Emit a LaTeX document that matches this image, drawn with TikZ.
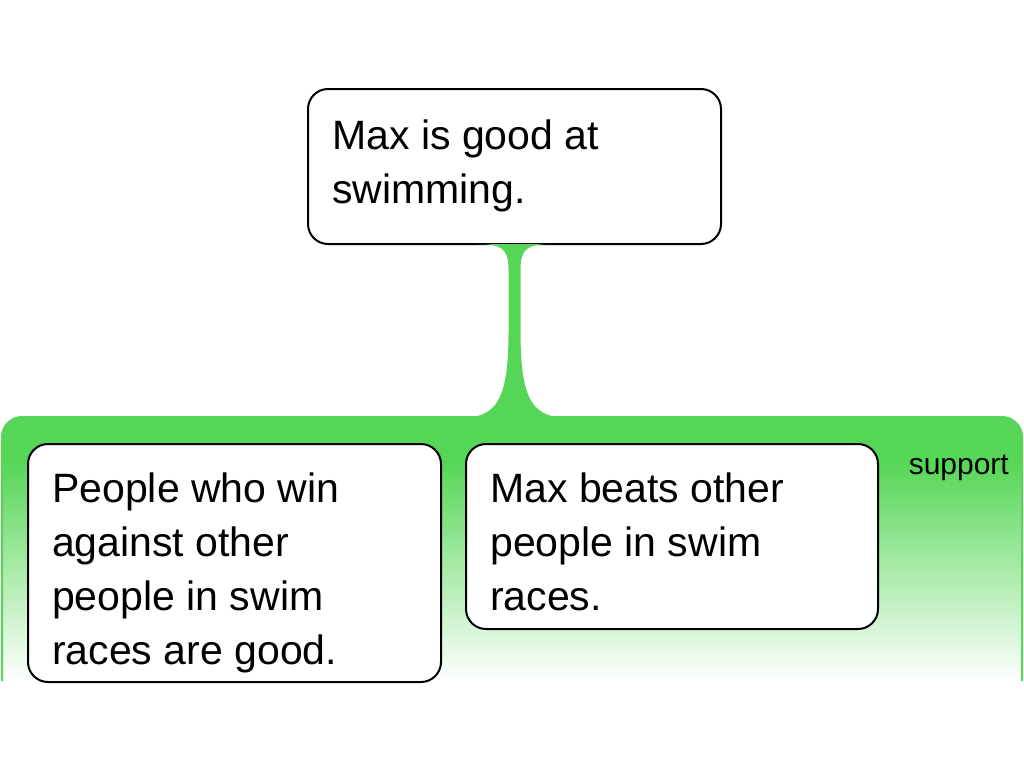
\documentclass[tikz,border=0pt]{standalone}
\usepackage{fontspec}
\setmainfont{Liberation Sans}
\definecolor{sgreen}{RGB}{86,214,86}
\tikzset{
  card/.style={draw=black, line width=2pt, fill=white, rounded corners=20pt, inner sep=0pt, anchor=north west},
  cardtext/.style={anchor=base west, inner sep=0pt, font=\fontsize{41}{54}\selectfont},
  reltext/.style={anchor=base east, inner sep=0pt, font=\fontsize{30}{34}\selectfont},
}
\newcommand{\cardlines}[1]{\parbox[t]{380pt}{\raggedright #1}}
\begin{document}
\begin{tikzpicture}[x=1pt,y=-1pt]
\useasboundingbox (0,0) rectangle (1024,768);
% support region
\fill[sgreen, rounded corners=20pt] (2,463) -- (2,417) -- (1022,417) -- (1022,463);
\shade[top color=sgreen, bottom color=white] (2,462) rectangle (1022,681);
\draw[sgreen, line width=2pt, rounded corners=20pt] (2,681) -- (2,417) -- (1022,417) -- (1022,681);
% boxes
\node[card, minimum width=413pt, minimum height=155pt] (claim) at (307,88) {};
\node[card, minimum width=413pt, minimum height=238pt] (warrant) at (27,443) {};
\node[card, minimum width=412pt, minimum height=185pt] (ground) at (465,443) {};
% stem
\fill[sgreen] (claim.south) ++(-37,-1) coordinate (stl)
  .. controls +(24,0) and +(0,-20) .. ++(31,25)
  -- ++(0,62)
  .. controls +(0,70) and +(37,0) .. ++(-49,87)
  -- ++(110,0)
  .. controls +(-37,0) and +(0,70) .. ++(-49,-87)
  -- ++(0,-62)
  .. controls +(0,-20) and +(-24,0) .. ++(31,-25)
  -- cycle;
% texts
\node[cardtext] (claimtext) at (332,149) {\cardlines{Max is good at\\swimming.}};
\node[cardtext] (warranttext) at (52,502) {\cardlines{People who win\\against other\\people in swim\\races are good.}};
\node[cardtext] (groundtext) at (490,502) {\cardlines{Max beats other\\people in swim\\races.}};
\node[reltext] (support) at (1009,474) {support};
\end{tikzpicture}
\end{document}
